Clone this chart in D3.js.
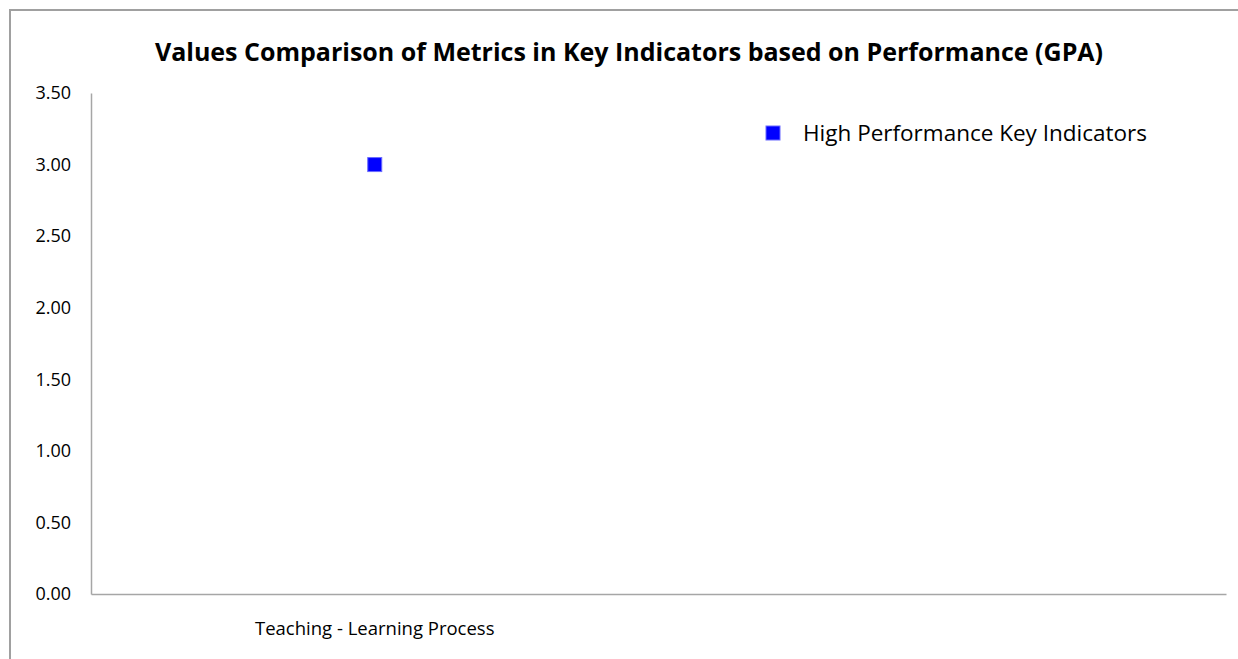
<!DOCTYPE html>
<html>
<head>
<meta charset="utf-8">
<script src="https://cdn.jsdelivr.net/npm/d3@7"></script>
<style>
  body { margin: 0; background: #fff; }
  text { font-family: "Open Sans", "Liberation Sans", sans-serif; fill: #000; }
</style>
</head>
<body>
<div id="chart"></div>
<script>
// chart data
const categories = ["Teaching - Learning Process", " "];
const seriesName = "High Performance Key Indicators";
const seriesValues = [3.00, null];
const yTicks = [0, 0.5, 1, 1.5, 2, 2.5, 3, 3.5];

const W = 1238, H = 659;
const margin = {top: 93, right: 12, bottom: 65, left: 91};
const width = 1226 - margin.left;
const height = 594 - margin.top;

const svg = d3.select("#chart")
    .append("svg")
    .attr("width", W)
    .attr("height", H);

// outer chart frame (only top/left visible in the crop)
svg.append("rect")
    .attr("x", 10).attr("y", 10)
    .attr("width", W + 20).attr("height", H + 20)
    .attr("fill", "none")
    .attr("stroke", "#a0a0a0")
    .attr("stroke-width", 2);

// title
svg.append("text")
    .attr("x", 629)
    .attr("y", 61)
    .attr("text-anchor", "middle")
    .style("font-size", "25px")
    .style("font-weight", "bold")
    .text("Values Comparison of Metrics in Key Indicators based on Performance (GPA)");

const g = svg.append("g")
    .attr("transform", `translate(${margin.left}, ${margin.top})`);

const x = d3.scaleBand()
    .domain(categories)
    .range([0, width]);

const y = d3.scaleLinear()
    .domain([0, 3.5])
    .range([height, 0]);

// Y axis
const yAxis = g.append("g")
    .call(d3.axisLeft(y).tickValues(yTicks).tickFormat(d3.format(".2f")).tickSize(0).tickPadding(20));
yAxis.select(".domain").attr("stroke", "#a6a6a6").attr("stroke-width", 1.5);
yAxis.selectAll("text").style("font-size", "18px").style("font-family", "'Open Sans', sans-serif");

// X axis
const xAxis = g.append("g")
    .attr("transform", `translate(0, ${height})`)
    .call(d3.axisBottom(x).tickSize(0).tickPadding(28));
xAxis.select(".domain").attr("stroke", "#a6a6a6").attr("stroke-width", 1.5);
xAxis.selectAll("text").style("font-size", "18.5px").style("font-family", "'Open Sans', sans-serif");

// points
const pts = categories.map((c, i) => ({cat: c, v: seriesValues[i]})).filter(d => d.v != null);
const s = 14;
g.append("g")
  .selectAll("rect")
  .data(pts)
  .join("rect")
    .attr("x", d => x(d.cat) + x.bandwidth() / 2 - s / 2)
    .attr("y", d => y(d.v) - s / 2)
    .attr("width", s)
    .attr("height", s)
    .attr("fill", "#0000ff")
    .attr("stroke", "#6b6bff")
    .attr("stroke-width", 1);

// legend
const legend = svg.append("g")
    .attr("transform", "translate(766, 126)");
legend.append("rect")
    .attr("width", 14).attr("height", 14)
    .attr("fill", "#0000ff")
    .attr("stroke", "#6b6bff");
legend.append("text")
    .attr("x", 37)
    .attr("y", 15)
    .style("font-size", "22.5px")
    .text(seriesName);
</script>
</body>
</html>
